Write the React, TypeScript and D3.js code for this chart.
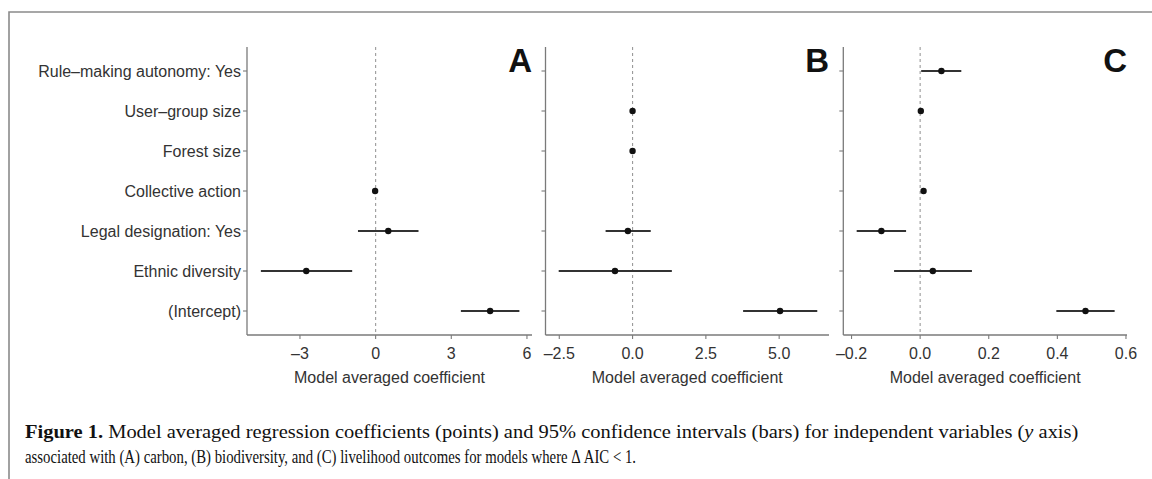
import React from "react";
import * as d3 from "d3";

const categories = [
  "Rule–making autonomy: Yes",
  "User–group size",
  "Forest size",
  "Collective action",
  "Legal designation: Yes",
  "Ethnic diversity",
  "(Intercept)",
];

// [estimate, lower, upper] or null when variable absent in the model set
type Est = [number, number, number] | null;

const carbonEst: Est[] = [
  null,
  null,
  null,
  [-0.02, -0.06, 0.02],
  [0.5, -0.7, 1.7],
  [-2.75, -4.55, -0.93],
  [4.54, 3.38, 5.7],
];

const biodiversityEst: Est[] = [
  null,
  [0.0, -0.03, 0.03],
  [0.0, -0.03, 0.03],
  null,
  [-0.16, -0.92, 0.62],
  [-0.6, -2.52, 1.34],
  [5.03, 3.77, 6.3],
];

const livelihoodEst: Est[] = [
  [0.062, 0.003, 0.12],
  [0.002, 0.0, 0.004],
  null,
  [0.01, 0.006, 0.014],
  [-0.113, -0.185, -0.041],
  [0.037, -0.076, 0.151],
  [0.482, 0.397, 0.567],
];

const carbonTicks = [-3, 0, 3, 6];
const biodiversityTicks = [-2.5, 0, 2.5, 5];
const livelihoodTicks = [-0.2, 0, 0.2, 0.4, 0.6];

const carbonDomain: [number, number] = [-5.1, 6.2];
const biodiversityDomain: [number, number] = [-2.97, 6.7];
const livelihoodDomain: [number, number] = [-0.224, 0.603];

const panelLetters = ["A", "B", "C"];
const xTitle = "Model averaged coefficient";

const captionBold = "Figure 1.";
const captionLine1a = " Model averaged regression coefficients (points) and 95% confidence intervals (bars) for independent variables (";
const captionItalic = "y";
const captionLine1b = " axis)";
const captionLine2 = "associated with (A) carbon, (B) biodiversity, and (C) livelihood outcomes for models where Δ AIC < 1.";

const fmtInt = (v: number) => (v < 0 ? "–" + Math.abs(v) : String(v));
const fmt1 = (v: number) => (v < 0 ? "–" + Math.abs(v).toFixed(1) : v.toFixed(1));

const TOP = 47;
const BOTTOM = 335;
const AXIS_COL = "#7a7a7a";
const TEXT_COL = "#333";
const FONT = "Liberation Sans, Arial, sans-serif";
const SERIF = "Liberation Serif";
const CAP_SIZE = 18;

const y = d3.scalePoint<string>().domain(categories).range([71, 311]);

let ctx: CanvasRenderingContext2D | null = null;
function measure(text: string, weight: string, style: string) {
  if (!ctx) ctx = document.createElement("canvas").getContext("2d");
  if (!ctx) return text.length * CAP_SIZE * 0.45;
  ctx.font = `${style} ${weight} ${CAP_SIZE}px "${SERIF}"`;
  return ctx.measureText(text).width;
}

interface PanelProps {
  x0: number;
  x1: number;
  domain: [number, number];
  ticks: number[];
  fmt: (v: number) => string;
  data: Est[];
  letter: string;
  showLabels: boolean;
}

function Panel({ x0, x1, domain, ticks, fmt, data, letter, showLabels }: PanelProps) {
  const x = d3.scaleLinear().domain(domain).range([x0, x1]);
  return (
    <g>
      <line x1={x(0)} x2={x(0)} y1={TOP} y2={BOTTOM} stroke="#9a9a9a" strokeWidth={1.1} strokeDasharray="3,3" />
      <line x1={x0} x2={x0} y1={TOP} y2={BOTTOM} stroke={AXIS_COL} strokeWidth={1.3} />
      {categories.map((c) => (
        <g key={c}>
          <line x1={x0 - 4} x2={x0} y1={y(c)} y2={y(c)} stroke={AXIS_COL} strokeWidth={1.1} />
          {showLabels && (
            <text x={x0 - 6} y={y(c)!} dy="0.36em" textAnchor="end" fontSize={16} fill={TEXT_COL} fontFamily={FONT}>
              {c}
            </text>
          )}
        </g>
      ))}
      <line x1={x0} x2={x1} y1={BOTTOM} y2={BOTTOM} stroke={AXIS_COL} strokeWidth={1.3} />
      {ticks.map((t) => (
        <g key={t}>
          <line x1={x(t)} x2={x(t)} y1={BOTTOM} y2={BOTTOM + 4} stroke={AXIS_COL} strokeWidth={1.1} />
          <text x={x(t)} y={BOTTOM + 18} dy="0.36em" textAnchor="middle" fontSize={16} fill={TEXT_COL} fontFamily={FONT}>
            {fmt(t)}
          </text>
        </g>
      ))}
      <text x={(x0 + x1) / 2} y={377} dy="0.36em" textAnchor="middle" fontSize={16} fill={TEXT_COL} fontFamily={FONT}>
        {xTitle}
      </text>
      {data.map((d, i) =>
        d ? (
          <g key={i}>
            <line x1={x(d[1])} x2={x(d[2])} y1={y(categories[i])} y2={y(categories[i])} stroke="#333" strokeWidth={2.2} />
            <circle cx={x(d[0])} cy={y(categories[i])} r={3.2} fill="#111" />
          </g>
        ) : null
      )}
      <text x={x1} y={72} textAnchor="end" fontSize={33} fontWeight="bold" fill="#111" fontFamily={FONT}>
        {letter}
      </text>
    </g>
  );
}

function Caption() {
  const left = 25;
  const line1Width = 1054;
  const line2Width = 612;
  const nat1 =
    measure(captionBold, "bold", "normal") +
    measure(captionLine1a, "normal", "normal") +
    measure(captionItalic, "normal", "italic") +
    measure(captionLine1b, "normal", "normal");
  const nat2 = measure(captionLine2, "normal", "normal");
  const k1 = line1Width / nat1;
  const k2 = line2Width / nat2;
  return (
    <g fontFamily={SERIF} fontSize={CAP_SIZE} fill="#111">
      <g transform={`translate(${left},438) scale(${k1},1)`}>
        <text x={0} y={0}>
          <tspan fontWeight="bold">{captionBold}</tspan>
          <tspan>{captionLine1a}</tspan>
          <tspan fontStyle="italic">{captionItalic}</tspan>
          <tspan>{captionLine1b}</tspan>
        </text>
      </g>
      <g transform={`translate(${left},463) scale(${k2},1)`}>
        <text x={0} y={0}>{captionLine2}</text>
      </g>
    </g>
  );
}

export default function App() {
  return (
    <svg width={1152} height={479} style={{ position: "absolute", left: 0, top: 0, background: "#fff" }}>
      <rect x={0} y={0} width={1152} height={479} fill="#fff" />
      <path d="M9,479 L9,12 L1152,12" fill="none" stroke="#8a8a8a" strokeWidth={1.6} />
      <Panel x0={247} x1={532} domain={carbonDomain} ticks={carbonTicks} fmt={fmtInt} data={carbonEst} letter={panelLetters[0]} showLabels={true} />
      <Panel x0={545.5} x1={829} domain={biodiversityDomain} ticks={biodiversityTicks} fmt={fmt1} data={biodiversityEst} letter={panelLetters[1]} showLabels={false} />
      <Panel x0={843.3} x1={1127} domain={livelihoodDomain} ticks={livelihoodTicks} fmt={fmt1} data={livelihoodEst} letter={panelLetters[2]} showLabels={false} />
      <Caption />
    </svg>
  );
}
